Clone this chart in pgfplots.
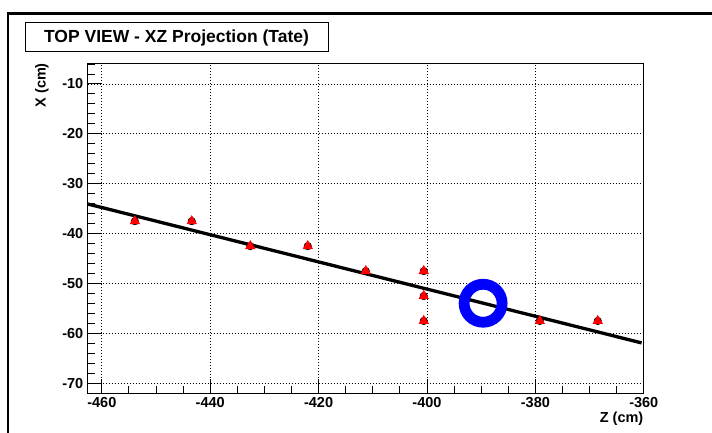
\documentclass[border=0pt]{standalone}
\usepackage{pgfplots}
\pgfplotsset{compat=1.18}
\usepackage{fontspec}
\setmainfont{Liberation Sans}
\begin{document}
\begin{tikzpicture}
\useasboundingbox (0pt,0pt) rectangle (712pt,432pt);
\clip (0pt,0pt) rectangle (712pt,432pt);
\draw[line width=2.7pt] (8pt,-10pt) -- (8pt,418.5pt) -- (730pt,418.5pt);
\begin{axis}[
  at={(87.5pt,39pt)}, anchor=south west,
  scale only axis, width=556.3pt, height=329.7pt,
  xmin=-462.64, xmax=-360, ymin=-71.94, ymax=-5.85,
  xtick={-460,-440,-420,-400,-380,-360},
  xticklabels={-460,-440,-420,-400,-380,-360},
  ytick={-70,-60,-50,-40,-30,-20,-10},
  yticklabels={-70,-60,-50,-40,-30,-20,-10},
  minor xtick={-460,-455,...,-360},
  minor ytick={-70,-68,...,-6},
  xtick pos=bottom, ytick pos=left,
  tick align=inside,
  major tick length=14pt, minor tick length=7pt,
  tick style={black, line width=1pt},
  grid=major,
  major grid style={black, line width=0.9pt, dash pattern=on 0.9pt off 2.1pt},
  axis line style={line width=1pt},
  ticklabel style={font=\bfseries\fontsize{14.5}{14.5}\selectfont, inner sep=0pt},
  xticklabel style={yshift=-4pt},
  yticklabel style={xshift=-4pt},
]
\addplot[black, line width=3.3pt, line join=round] coordinates {
  (-462.6,-34.05) (-440,-40.21) (-420,-45.66) (-400,-51.11) (-380,-56.56) (-360.4,-61.9)};
\addplot[only marks, mark=*, mark size=3.8pt, black] coordinates {
  (-453.9,-37.5) (-443.4,-37.5) (-432.6,-42.5) (-422.0,-42.5) (-411.3,-47.5)
  (-400.6,-47.5) (-400.6,-52.5) (-400.6,-57.5) (-379.2,-57.5) (-368.5,-57.5)};
\addplot[only marks, mark=triangle*, mark size=5.6pt, red] coordinates {
  (-453.9,-37.5) (-443.4,-37.5) (-432.6,-42.5) (-422.0,-42.5) (-411.3,-47.5)
  (-400.6,-47.5) (-400.6,-52.5) (-400.6,-57.5) (-379.2,-57.5) (-368.5,-57.5)};
\addplot[only marks, mark=o, mark size=19pt, blue, mark options={line width=10.8pt}] coordinates {
  (-389.65,-53.95)};
\end{axis}
\draw[line width=1pt, fill=white] (25pt,409pt) rectangle (328pt,380pt);
\node[font=\bfseries\fontsize{17.5}{17.5}\selectfont] at (176.5pt,394.5pt) {TOP VIEW - XZ Projection (Tate)};
\node[font=\bfseries\fontsize{14.5}{14.5}\selectfont, anchor=east, inner sep=0pt] at (643.5pt,13.6pt) {Z (cm)};
\node[font=\bfseries\fontsize{14.5}{14.5}\selectfont, rotate=90, anchor=east, inner sep=0pt] at (42pt,369pt) {X (cm)};
\end{tikzpicture}
\end{document}
